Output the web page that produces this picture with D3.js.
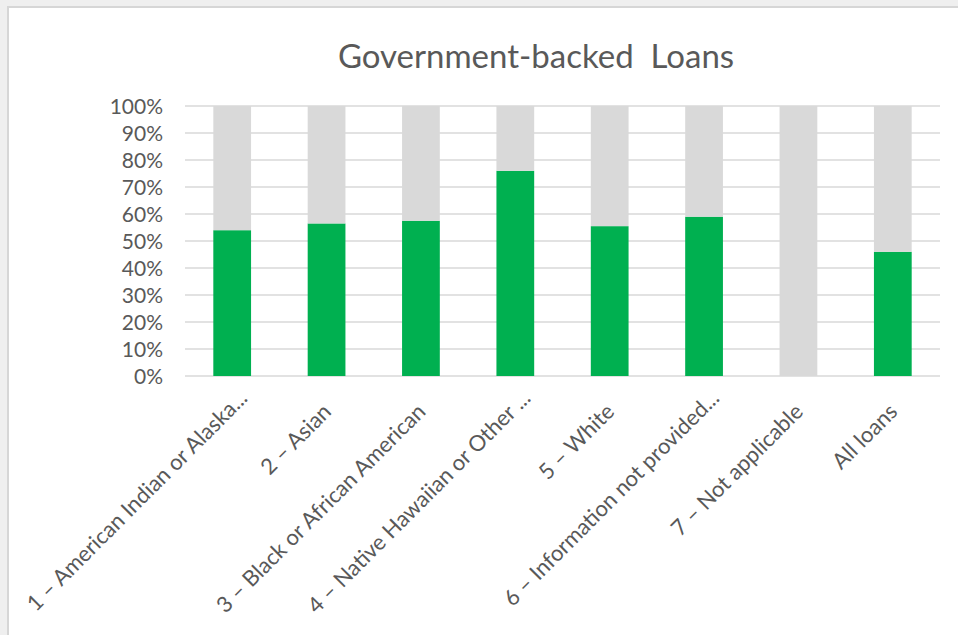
<!DOCTYPE html>
<html>
<head>
<meta charset="utf-8">
<script src="https://cdn.jsdelivr.net/npm/d3@7"></script>
<style>
  html, body { margin: 0; padding: 0; background: #efefef; overflow: hidden; }
  svg { display: block; font-family: Lato, "Noto Sans", sans-serif; }
</style>
</head>
<body>
<svg id="chart" width="958" height="635"></svg>
<script>
// data
const categories = [
  '1 \u2013 American Indian or Alaska...',
  '2 \u2013 Asian',
  '3 \u2013 Black or African American',
  '4 \u2013 Native Hawaiian or Other ...',
  '5 \u2013 White',
  '6 \u2013 Information not provided...',
  '7 \u2013 Not applicable',
  'All loans'
];
const govBacked = [0.54, 0.565, 0.575, 0.76, 0.555, 0.59, 0, 0.46];
const otherShare = [0.46, 0.435, 0.425, 0.24, 0.445, 0.41, 1, 0.54];
const yTicks = [0, 0.1, 0.2, 0.3, 0.4, 0.5, 0.6, 0.7, 0.8, 0.9, 1];
const title = 'Government-backed  Loans';

const $svg = d3.select('#chart');

// chart frame
$svg.append('rect')
  .attr('x', 8).attr('y', 7)
  .attr('width', 960).attr('height', 640)
  .attr('fill', '#fff')
  .attr('stroke', '#d6d6d6')
  .attr('stroke-width', 2);

// scales
const x = d3.scaleBand()
  .domain(categories)
  .range([185, 940])
  .paddingInner(0.6)
  .paddingOuter(0.3);

const y = d3.scaleLinear()
  .domain([0, 1])
  .range([376, 106]);

const rows = categories.map((c, i) => ({ key: c, gov: govBacked[i], other: otherShare[i] }));
const stacked = d3.stack().keys(['gov', 'other'])(rows);
const colors = { gov: '#00b050', other: '#d9d9d9' };

// gridlines
$svg.append('g')
  .selectAll('line')
  .data(yTicks)
  .join('line')
  .attr('x1', 185).attr('x2', 940)
  .attr('y1', d => y(d)).attr('y2', d => y(d))
  .attr('stroke', '#d9d9d9')
  .attr('stroke-width', 1.5);

// y labels
$svg.append('g')
  .selectAll('text')
  .data(yTicks)
  .join('text')
  .attr('x', 163)
  .attr('y', d => y(d))
  .attr('dy', '0.36em')
  .attr('text-anchor', 'end')
  .attr('fill', '#595959')
  .style('font-size', '21px')
  .text(d3.format('.0%'));

// bars
$svg.append('g')
  .selectAll('g')
  .data(stacked)
  .join('g')
  .attr('fill', d => colors[d.key])
  .selectAll('rect')
  .data(d => d)
  .join('rect')
  .attr('x', d => x(d.data.key))
  .attr('width', x.bandwidth())
  .attr('y', d => y(d[1]))
  .attr('height', d => y(d[0]) - y(d[1]));

// x labels (truncated ones sit a bit further along, like Excel does)
$svg.append('g')
  .selectAll('text')
  .data(categories)
  .join('text')
  .attr('transform', d => `translate(${x(d) + x.bandwidth() / 2 + 6},413) rotate(-45)`)
  .attr('dx', d => d.endsWith('...') ? 17 : 0)
  .attr('dy', d => d.endsWith('...') ? -2 : 0)
  .attr('text-anchor', 'end')
  .attr('fill', '#595959')
  .style('font-size', '22px')
  .text(d => d);

// title
$svg.append('text')
  .attr('x', 536)
  .attr('y', 68)
  .attr('text-anchor', 'middle')
  .attr('fill', '#595959')
  .style('font-size', '33px')
  .style('white-space', 'pre')
  .text(title);
</script>
</body>
</html>
